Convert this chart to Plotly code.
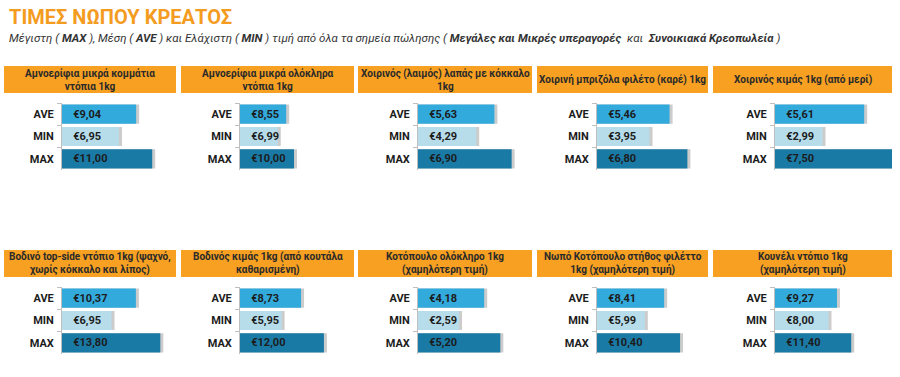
import plotly.graph_objects as go

# ---- data ----
products = [
    "Αμνοερίφια μικρά κομμάτια<br>ντόπια 1kg",
    "Αμνοερίφια μικρά ολόκληρα<br>ντόπια 1kg",
    "Χοιρινός (λαιμός) λαπάς με κόκκαλο<br>1kg",
    "Χοιρινή μπριζόλα φιλέτο (καρέ) 1kg",
    "Χοιρινός κιμάς 1kg (από μερί)",
    "Βοδινό top-side ντόπιο 1kg (ψαχνό,<br>χωρίς κόκκαλο και λίπος)",
    "Βοδινός κιμάς 1kg (από κουτάλα<br>καθαρισμένη)",
    "Κοτόπουλο ολόκληρο 1kg<br>(χαμηλότερη τιμή)",
    "Νωπό Κοτόπουλο στήθος φιλέττο<br>1kg (χαμηλότερη τιμή)",
    "Κουνέλι ντόπιο 1kg<br>(χαμηλότερη τιμή)",
]
categories = ["AVE", "MIN", "MAX"]
ave_values = [9.04, 8.55, 5.63, 5.46, 5.61, 10.37, 8.73, 4.18, 8.41, 9.27]
min_values = [6.95, 6.99, 4.29, 3.95, 2.99, 6.95, 5.95, 2.59, 5.99, 8.00]
max_values = [11.00, 10.00, 6.90, 6.80, 7.50, 13.80, 12.00, 5.20, 10.40, 11.40]

title = "ΤΙΜΕΣ ΝΩΠΟΥ ΚΡΕΑΤΟΣ"
subtitle = ("<i>Μέγιστη ( <b>MAX</b> ), Μέση ( <b>AVE</b> ) και Ελάχιστη ( <b>MIN</b> ) "
            "τιμή από όλα τα σημεία πώλησης ( <b>Μεγάλες και Μικρές υπεραγορές</b>  και  "
            "<b>Συνοικιακά Κρεοπωλεία</b> )</i>")

# ---- layout/style ----
W, H = 900, 377
FONT = "Roboto"
bar_colors = ["#33AADC", "#B7DCEA", "#1A7AA6"]
orange = "#F7A021"

# panel geometry in pixels
header_x = [(4, 176), (181, 354), (358, 532), (537, 708), (713, 892)]
axis_x = [62, 240, 418, 597, 775]
header_y = [(66, 93), (250, 277)]
plot_y = [(103, 170), (287, 354)]
x_max = [13.9, 21.1, 8.4, 8.35, 7.36, 16.0, 16.3, 7.2, 13.9, 17.5]


def fx(px):
    return px / W


def fy(py):
    return 1 - py / H


fig = go.Figure()
shapes = []
annotations = []

for i in range(10):
    row, col = divmod(i, 5)
    vals = [ave_values[i], min_values[i], max_values[i]]
    labels = ["\u00a0\u00a0\u00a0€" + f"{v:.2f}".replace(".", ",") for v in vals]
    xa = "x" if i == 0 else f"x{i+1}"
    ya = "y" if i == 0 else f"y{i+1}"
    span = axis_x[col], header_x[col][1]
    shadow_extra = x_max[i] * 3.0 / (span[1] - span[0])
    # shadow
    fig.add_trace(go.Bar(
        x=[v + shadow_extra for v in vals], y=categories, orientation="h",
        marker=dict(color="rgba(110,110,110,0.35)", line=dict(width=0)),
        xaxis=xa, yaxis=ya, hoverinfo="skip", showlegend=False,
    ))
    fig.add_trace(go.Bar(
        x=vals, y=categories, orientation="h",
        marker=dict(color=bar_colors, line=dict(width=0)),
        text=labels, textposition="inside", insidetextanchor="start",
        constraintext="none",
        textfont=dict(family=FONT, size=11, color="#1c1c1c", weight="bold"),
        xaxis=xa, yaxis=ya, showlegend=False,
    ))
    xkey = "xaxis" if i == 0 else f"xaxis{i+1}"
    ykey = "yaxis" if i == 0 else f"yaxis{i+1}"
    fig.update_layout(**{
        xkey: dict(domain=[fx(span[0]), fx(span[1])], range=[0, x_max[i]],
                   visible=False, fixedrange=True, anchor=ya),
        ykey: dict(domain=[fy(plot_y[row][1]), fy(plot_y[row][0])],
                   anchor=xa, autorange="reversed", showline=True,
                   linecolor="#BFBFBF", linewidth=1, ticks="outside",
                   tickson="boundaries", ticklen=4, tickcolor="#BFBFBF",
                   ticklabelstandoff=5,
                   tickfont=dict(family=FONT, size=11, color="#1c1c1c", weight="bold"),
                   showgrid=False, zeroline=False, fixedrange=True),
    })
    hx0, hx1 = header_x[col]
    hy0, hy1 = header_y[row]
    shapes.append(dict(type="rect", xref="paper", yref="paper",
                       x0=fx(hx0), x1=fx(hx1), y0=fy(hy1), y1=fy(hy0),
                       fillcolor=orange, line=dict(width=0), layer="below"))
    annotations.append(dict(text="<b>" + products[i] + "</b>", xref="paper", yref="paper",
                            x=fx((hx0 + hx1) / 2), y=fy((hy0 + hy1) / 2),
                            xanchor="center", yanchor="middle", showarrow=False,
                            align="center",
                            font=dict(family=FONT, size=10, color="#2a2a2a")))

annotations.append(dict(text="<b>" + title + "</b>", xref="paper", yref="paper",
                        x=fx(7), y=fy(3), xanchor="left", yanchor="top", showarrow=False,
                        font=dict(family=FONT, size=20, color="#F39C1F")))
annotations.append(dict(text=subtitle, xref="paper", yref="paper",
                        x=fx(7), y=fy(29), xanchor="left", yanchor="top", showarrow=False,
                        font=dict(family=FONT, size=11.5, color="#333333")))

fig.update_layout(
    width=W, height=H, margin=dict(l=0, r=0, t=0, b=0),
    paper_bgcolor="white", plot_bgcolor="white",
    barmode="overlay", bargap=0.14,
    shapes=shapes, annotations=annotations,
    font=dict(family=FONT),
)

fig.write_html("out.html")
